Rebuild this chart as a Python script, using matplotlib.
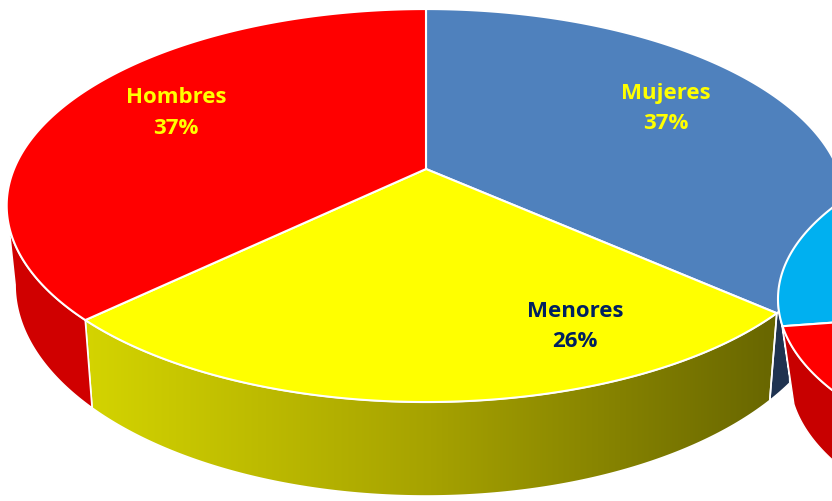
import numpy as np
import matplotlib
matplotlib.use('Agg')
import matplotlib.pyplot as plt
from matplotlib.patches import Polygon
from matplotlib.colors import LinearSegmentedColormap

# ---------------- data ----------------
categorias = ['Mujeres', 'Menores', 'Hombres']
valores = [36.6, 26.2, 37.2]
# neighbouring (cropped) pie visible at the right edge
categorias2 = ['Amarillo', 'Cian', 'Rojo']
valores2 = [30.0, 11.0, 59.0]

# ---------------- style ----------------
col_top = ['#4F81BD', '#FFFF00', '#FF0000']
col_side = ['#1F3350', None, '#D00000']
col_txt = ['#FFFF00', '#002060', '#FFFF00']
label_xy = [(666, 108.5), (575, 326.5), (176, 113)]
col2_top = ['#FFFF00', '#00B0F0', '#FF0000']
col2_side = ['#B0B000', '#2EA8D8', '#C80000']

W, H = 832, 502
fig = plt.figure(figsize=(W / 100, H / 100), dpi=100)
ax = fig.add_axes([0, 0, 1, 1])
ax.set_xlim(0, W)
ax.set_ylim(H, 0)
ax.axis('off')

# perspective model of main pie
cx, cy, A, B, k, Hd, sb = 426.0, 170.0, 412.0, 189.7, 0.186, 76.5, 0.02


def proj(phi_deg, z=0.0):
    p = np.radians(phi_deg)
    X, Y = np.cos(p), np.sin(p)
    w = 1 + k * Y
    return cx + A * X / w * (1 - sb * z), cy - B * Y / w + Hd * z / w


def arc(a0, a1, z=0.0, n=200):
    t = np.linspace(a0, a1, n)
    x, y = proj(t, z)
    return np.column_stack([x, y])


# slice angles (clockwise from top)
tot = sum(valores)
angs = []
a = 90.0
for v in valores:
    b = a - 360.0 * v / tot
    angs.append((a, b))
    a = b

vis_lo, vis_hi = -180 + np.degrees(np.arcsin(k)), -np.degrees(np.arcsin(k))

# side walls
for i, (a0, a1) in enumerate(angs):
    hi, lo = min(a0, vis_hi), max(a1, vis_lo)
    if hi <= lo:
        continue
    pts = np.vstack([arc(hi, lo), arc(lo, hi, z=1.0)])
    if col_side[i] is None:
        poly = Polygon(pts, closed=True, facecolor='none', edgecolor='none')
        ax.add_patch(poly)
        grad = np.linspace(0, 1, 256).reshape(1, -1)
        cm = LinearSegmentedColormap.from_list('y', ['#D4D400', '#A6A200', '#686600'])
        im = ax.imshow(grad, cmap=cm,
                       extent=[pts[:, 0].min(), pts[:, 0].max(), pts[:, 1].max(), pts[:, 1].min()],
                       aspect='auto', zorder=1)
        im.set_clip_path(poly)
        ax.add_patch(Polygon(pts, closed=True, facecolor='none', edgecolor='white', lw=1.2, zorder=2))
    else:
        ax.add_patch(Polygon(pts, closed=True, facecolor=col_side[i], edgecolor='white', lw=1.2, zorder=2))

# top faces
for i, (a0, a1) in enumerate(angs):
    pts = np.vstack([[cx, cy], arc(a0, a1)])
    ax.add_patch(Polygon(pts, closed=True, facecolor=col_top[i], edgecolor='white', lw=1.5, zorder=3))

# labels
for i, c in enumerate(categorias):
    ax.text(label_xy[i][0], label_xy[i][1], f"{c}\n{round(valores[i])}%", color=col_txt[i],
            ha='center', va='center', fontsize=16, fontweight='bold', family='Open Sans',
            linespacing=1.62, zorder=5)

# ---------------- second (cropped) pie ----------------
c2x, c2y, a2, b2, d2, s2 = 1162.0, 300.0, 384.0, 178.0, 78.0, 0.03


def p2(t, z=0.0):
    t = np.radians(t)
    return c2x + a2 * np.cos(t) * (1 - s2 * z), c2y - b2 * np.sin(t) + d2 * z


def arc2(t0, t1, z=0.0, n=200):
    t = np.linspace(t0, t1, n)
    x, y = p2(t, z)
    return np.column_stack([x, y])


tot2 = sum(valores2)
angs2 = []
t = 149.2 - 360.0 * valores2[0] / tot2
for v in valores2:
    u = t + 360.0 * v / tot2
    angs2.append((t, u))
    t = u

for i, (t0, t1) in enumerate(angs2):
    l, h = max(t0, 180), min(t1, 360)
    if h > l:
        pts = np.vstack([arc2(l, h), arc2(h, l, z=1.0)])
        ax.add_patch(Polygon(pts, closed=True, facecolor=col2_side[i], edgecolor='white', lw=1.0, zorder=6))

for i, (t0, t1) in enumerate(angs2):
    pts = np.vstack([[c2x, c2y], arc2(t0, t1)])
    ax.add_patch(Polygon(pts, closed=True, facecolor=col2_top[i], edgecolor='white', lw=1.5, zorder=7))

fig.savefig('out.png', dpi=100)
